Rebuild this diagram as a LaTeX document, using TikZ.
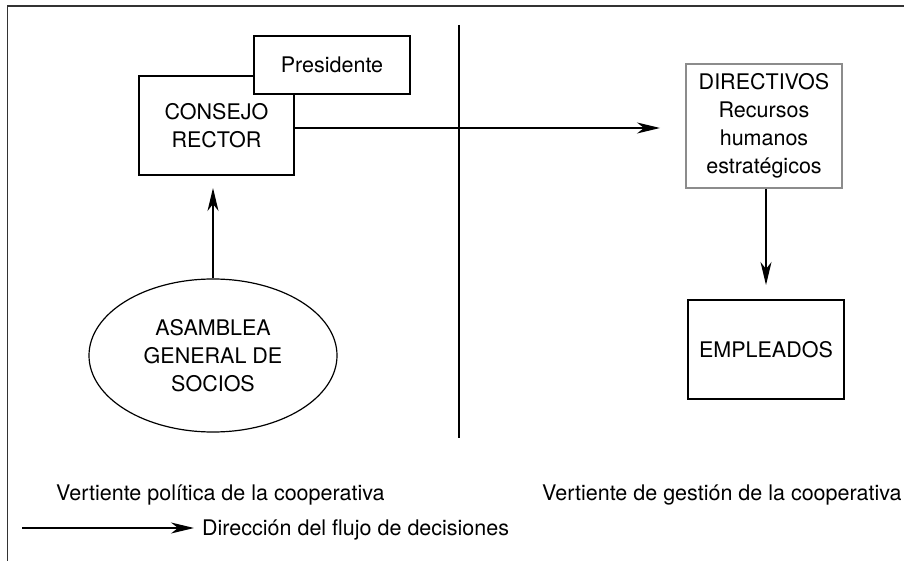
\documentclass[tikz,border=0pt]{standalone}
\usepackage{fontspec}
\setmainfont{TeX Gyre Heros}
\usetikzlibrary{arrows.meta,shapes.geometric}
\begin{document}
\begin{tikzpicture}[x=1pt,y=-1pt,
  every node/.style={font=\fontsize{21.5}{28}\selectfont, align=center, inner sep=0pt},
  box/.style={draw=black, line width=1.2pt, fill=white, rectangle},
  graybox/.style={draw=black!45, line width=1.2pt, fill=white, rectangle},
  flow/.style={line width=1.2pt, -{Stealth[length=23pt,width=11pt,inset=7pt]}},
  frameline/.style={draw=black!80, line width=1.8pt},
  plain/.style={line width=1.2pt}]
\useasboundingbox (0,0) rectangle (904,561);
% frame
\coordinate (fTR) at (905,6);
\coordinate (fTL) at (7.5,6);
\coordinate (fBL) at (7.5,562);
\draw[frameline] (fTR) -- (fTL) -- (fBL);
% divider
\coordinate (dT) at (459,25);
\coordinate (dB) at (459,438);
\draw[plain] (dT) -- (dB);
% nodes
\node[box, minimum width=155pt, minimum height=99pt] (consejo) at (216.5,125.5) {CONSEJO\\RECTOR};
\node[box, minimum width=156pt, minimum height=58pt] (pres) at (332,65) {Presidente};
\node[graybox, minimum width=156pt, minimum height=124pt] (dir) at (764,126) {DIRECTIVOS\\Recursos\\humanos\\estratégicos};
\node[box, minimum width=156pt, minimum height=99pt] (emp) at (766,349.5) {EMPLEADOS};
\node[ellipse, draw=black, line width=1.2pt, minimum width=248pt, minimum height=153pt] (asam) at (213,355.5) {ASAMBLEA\\GENERAL DE\\SOCIOS};
% connectors
\coordinate (aTip1) at (660,128);
\draw[flow] (consejo.east |- aTip1) -- (aTip1);
\coordinate (aTip2) at (766,285);
\draw[flow] (dir.south -| aTip2) -- (aTip2);
\coordinate (aTip3) at (213,188);
\draw[flow] (asam.north) -- (aTip3);
% labels
\node[anchor=base west] (vpol) at (56,500) {Vertiente política de la cooperativa};
\node[anchor=base west] (vges) at (542,500) {Vertiente de gestión de la cooperativa};
\coordinate (legS) at (22,528);
\node[anchor=base west] (legT) at (202,535) {Dirección del flujo de decisiones};
\coordinate (legE) at (194,528);
\draw[flow] (legS) -- (legE);
\end{tikzpicture}
\end{document}
